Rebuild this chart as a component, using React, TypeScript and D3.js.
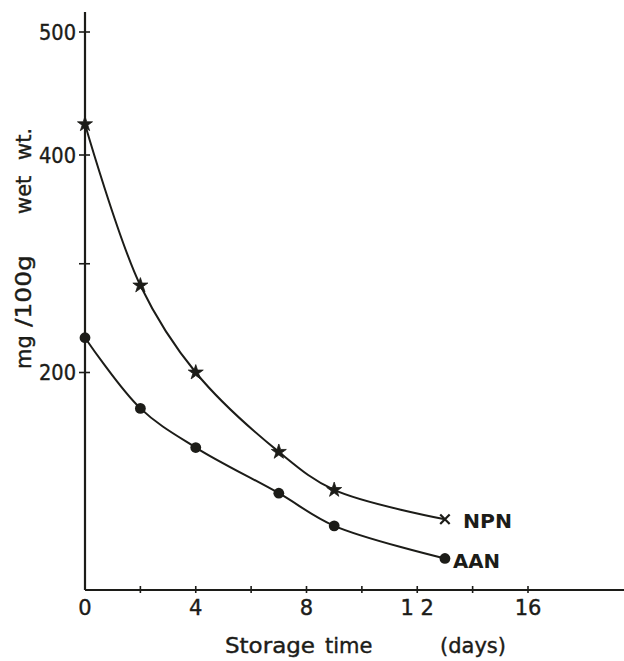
import React from "react";
import * as d3 from "d3";

const days = [0, 2, 4, 7, 9, 13];
const npn = [425, 280, 200, 127, 92, 65];
const aan = [232, 167, 131, 89, 59, 29];
const xTicks = [0, 2, 4, 6, 8, 10, 12, 14, 16];
const xLabels = [0, 4, 8, 12, 16];
const xLabelText = ["0", "4", "8", "1 2", "16"];
const yTicks = [200, 300, 400, 500];
const yLabels = [200, 400, 500];
const yTitleWords = ["mg", "/100g", "wet", "wt."];
const seriesNames = ["NPN", "AAN"];

const W = 624;
const H = 661;
const INK = "#1c1c18";
const FONT = "'DejaVu Sans', sans-serif";

export default function App() {
  const x = d3.scaleLinear().domain([0, 16]).range([85, 528]);
  const y = d3.scaleLinear().domain([0, 400, 500]).range([590, 155, 32]);
  const line = d3
    .line<number>()
    .x((_, i) => x(days[i]))
    .y((d) => y(d))
    .curve(d3.curveCatmullRom.alpha(0.5));
  const star = d3.symbol().type(d3.symbolStar).size(70)() as string;
  const times = d3.symbol().type(d3.symbolTimes).size(60)() as string;

  // bottom y of each rotated y-title word, and optional forced length
  const yWordPos = [369, 327, 214, 160];
  const yWordLen = [0, 72, 0, 0];
  const txt = { fill: INK, stroke: INK, strokeWidth: 0.4 };

  return (
    <svg
      width={W}
      height={H}
      style={{ position: "absolute", left: 0, top: 0, background: "#fff" }}
      fontFamily={FONT}
    >
      {/* axes */}
      <line x1={x(0)} x2={x(0)} y1={12} y2={y(0)} stroke={INK} strokeWidth={2.2} />
      <line x1={x(0)} x2={W} y1={y(0)} y2={y(0)} stroke={INK} strokeWidth={2.2} />
      {yTicks.map((t) => (
        <line key={"yt" + t} x1={x(0) - 6} x2={x(0) + 5} y1={y(t)} y2={y(t)} stroke={INK} strokeWidth={1.6} />
      ))}
      {xTicks.slice(1).map((t) => (
        <line key={"xt" + t} x1={x(t)} x2={x(t)} y1={y(0) - 4} y2={y(0) + 3} stroke={INK} strokeWidth={1.6} />
      ))}
      {yLabels.map((t) => (
        <text key={"yl" + t} x={76} y={y(t)} dy="0.36em" textAnchor="end" fontSize={21} {...txt}
          textLength={37} lengthAdjust="spacingAndGlyphs">
          {t}
        </text>
      ))}
      {xLabels.map((t, i) => (
        <text key={"xl" + t} x={x(t)} y={615} textAnchor="middle" fontSize={21} {...txt} xmlSpace="preserve">
          {xLabelText[i]}
        </text>
      ))}
      {/* axis titles */}
      <text x={225} y={653} fontSize={21} {...txt} textLength={90} lengthAdjust="spacingAndGlyphs">Storage</text>
      <text x={325} y={653} fontSize={21} {...txt}>time</text>
      <text x={440} y={653} fontSize={21} {...txt}>(days)</text>
      {yTitleWords.map((w, i) => (
        <text key={w} transform={`translate(31,${yWordPos[i]}) rotate(-90)`} fontSize={21} {...txt}
          {...(yWordLen[i] ? { textLength: yWordLen[i], lengthAdjust: "spacingAndGlyphs" } : {})}>
          {w}
        </text>
      ))}
      {/* series lines */}
      <path d={line(npn) as string} fill="none" stroke={INK} strokeWidth={2} />
      <path d={line(aan) as string} fill="none" stroke={INK} strokeWidth={2} />
      {/* markers */}
      {npn.map((v, i) =>
        i < npn.length - 1 ? (
          <path key={"s" + i} d={star} transform={`translate(${x(days[i])},${y(v)})`} fill={INK} stroke={INK} strokeWidth={0.8} />
        ) : (
          <path key={"s" + i} d={times} transform={`translate(${x(days[i])},${y(v)})`} fill="none" stroke={INK} strokeWidth={2.2} />
        )
      )}
      {aan.map((v, i) => (
        <circle key={"c" + i} cx={x(days[i])} cy={y(v)} r={5.4} fill={INK} />
      ))}
      {/* series labels */}
      <text x={463} y={528} fontSize={20} fontWeight="bold" fill={INK} textLength={49} lengthAdjust="spacingAndGlyphs">
        {seriesNames[0]}
      </text>
      <text x={453} y={568} fontSize={20} fontWeight="bold" fill={INK} textLength={47} lengthAdjust="spacingAndGlyphs">
        {seriesNames[1]}
      </text>
    </svg>
  );
}
